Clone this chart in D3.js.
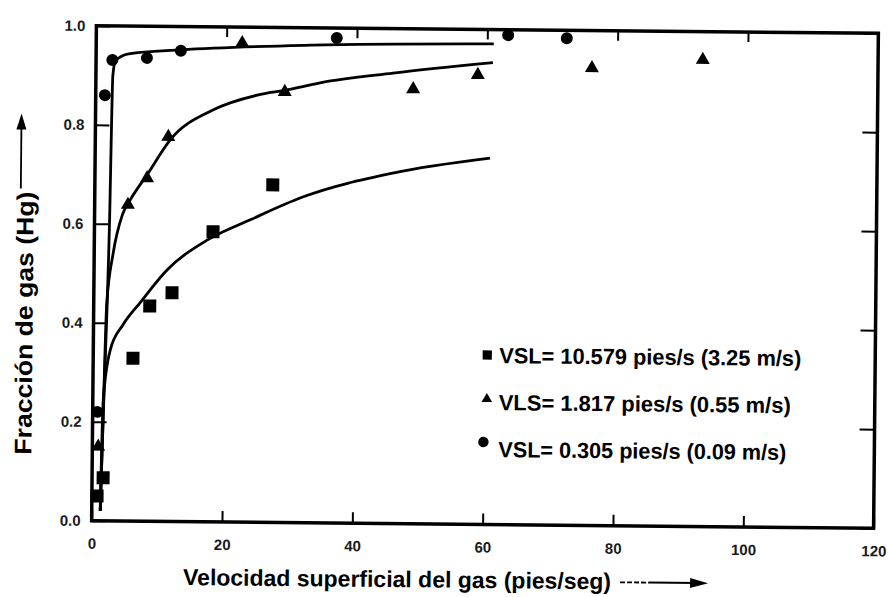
<!DOCTYPE html>
<html lang="es">
<head>
<meta charset="utf-8">
<title>Fracción de gas vs velocidad superficial del gas</title>
<script src="https://cdn.jsdelivr.net/npm/d3@7"></script>
<style>
    body { margin: 0; background: #fff; }
    svg { display: block; }
    text { font-family: "Liberation Sans Narrow", "Liberation Sans", Arial, sans-serif; fill: #000; font-weight: bold; }
    .tick text { font-family: "Liberation Sans", Arial, sans-serif; font-size: 15px; fill: #1a1a1a; }
    .tick line { stroke: #000; stroke-width: 2; }
</style>
</head>
<body>
<svg width="890" height="597"></svg>
<script>
    // ticks
    const xTicks = [0, 20, 40, 60, 80, 100, 120];
    const yTicks = [0, 0.2, 0.4, 0.6, 0.8, 1.0];

    // measured points: VSL = 10.579 pies/s (squares)
    const sqX = [0.8, 1.7, 6.1, 8.6, 12.0, 18.2, 27.3];
    const sqY = [0.05, 0.087, 0.329, 0.435, 0.462, 0.586, 0.682];
    // VLS = 1.817 pies/s (triangles)
    const triX = [0.9, 5.1, 8.0, 11.2, 22.4, 29.0, 48.7, 58.6, 76.1, 93.1];
    const triY = [0.15, 0.639, 0.693, 0.777, 0.968, 0.870, 0.878, 0.908, 0.924, 0.943];
    // VSL = 0.305 pies/s (circles)
    const cirX = [0.7, 1.4, 2.5, 7.8, 13.0, 36.9, 63.2, 72.2];
    const cirY = [0.22, 0.860, 0.931, 0.936, 0.951, 0.980, 0.989, 0.984];

    // fitted curves
    const sqCurveX = [1.3, 1.6, 2.6, 4.5, 7.1, 11.2, 17.3, 23.9, 31.9, 45.7, 60.6];
    const sqCurveY = [0.02, 0.244, 0.345, 0.396, 0.441, 0.508, 0.569, 0.611, 0.658, 0.708, 0.740];
    const triCurveX = [1.3, 1.6, 2.0, 2.9, 4.3, 5.5, 8.0, 11.5, 18.0, 24.8, 29.3, 34.4, 45.6, 60.9];
    const triCurveY = [0.02, 0.2, 0.44, 0.54, 0.62, 0.65, 0.70, 0.771, 0.832, 0.863, 0.874, 0.889, 0.910, 0.933];
    const cirCurveX = [1.3, 1.6, 2.3, 2.6, 3.0, 5.0, 13.0, 33.0, 61.0];
    const cirCurveY = [0.02, 0.2, 0.6, 0.9, 0.93, 0.944, 0.953, 0.965, 0.971];

    const legendLabels = [
        "VSL= 10.579 pies/s (3.25 m/s)",
        "VLS= 1.817 pies/s (0.55 m/s)",
        "VSL= 0.305 pies/s (0.09 m/s)"
    ];

    const svg = d3.select("svg");
    // the scanned figure is slightly tilted
    const g = svg.append("g").attr("transform", "rotate(0.55,486,277)");

    const x = d3.scaleLinear().domain([0, 120]).range([94, 876]);
    const y = d3.scaleLinear().domain([0, 1]).range([524.5, 29.5]);

    // axes with inward ticks
    g.append("g")
        .attr("transform", `translate(0,${y(0)})`)
        .call(d3.axisBottom(x).tickValues(xTicks).tickSizeInner(-11).tickSizeOuter(0)
            .tickPadding(17.5).tickFormat(d3.format("d")))
        .call(a => a.select(".domain").remove());

    g.append("g")
        .attr("transform", `translate(${x(0)},0)`)
        .call(d3.axisLeft(y).tickValues(yTicks).tickSizeInner(-14).tickSizeOuter(0)
            .tickPadding(11).tickFormat(d3.format(".1f")))
        .call(a => a.select(".domain").remove());

    g.append("g")
        .attr("transform", `translate(${x(120)},0)`)
        .call(d3.axisRight(y).tickValues(yTicks).tickSizeInner(-15).tickSizeOuter(0).tickFormat(""))
        .call(a => a.select(".domain").remove());

    g.append("g")
        .attr("transform", `translate(0,${y(1)})`)
        .call(d3.axisTop(x).tickValues(xTicks).tickSizeInner(-10).tickSizeOuter(0).tickFormat(""))
        .call(a => a.select(".domain").remove());

    // frame
    g.append("rect")
        .attr("x", x(0)).attr("y", y(1))
        .attr("width", x(120) - x(0)).attr("height", y(0) - y(1))
        .attr("fill", "none").attr("stroke", "#000").attr("stroke-width", 3.5);

    // curves
    const line = d3.line()
        .x(d => x(d[0]))
        .y(d => y(d[1]))
        .curve(d3.curveMonotoneX);

    const curves = [
        d3.zip(sqCurveX, sqCurveY),
        d3.zip(triCurveX, triCurveY),
        d3.zip(cirCurveX, cirCurveY)
    ];

    g.selectAll("path.curve")
        .data(curves)
        .join("path")
        .attr("class", "curve")
        .attr("d", line)
        .attr("fill", "none")
        .attr("stroke", "#000")
        .attr("stroke-width", 2.8)
        .attr("stroke-linejoin", "round");

    // markers
    const series = [
        {pts: d3.zip(sqX, sqY), type: d3.symbolSquare, size: 169, lsize: 85},
        {pts: d3.zip(triX, triY), type: d3.symbolTriangle, size: 85, lsize: 48},
        {pts: d3.zip(cirX, cirY), type: d3.symbolCircle, size: 113, lsize: 85}
    ];

    series.forEach(s => {
        g.append("g")
            .selectAll("path")
            .data(s.pts)
            .join("path")
            .attr("transform", d => `translate(${x(d[0])},${y(d[1])})`)
            .attr("d", d3.symbol().type(s.type).size(s.size))
            .attr("fill", "#000");
    });

    // legend
    const legend = g.append("g").attr("transform", "translate(500,363)");
    const legendWidths = [302, 292, 288];
    legendLabels.forEach((lab, i) => {
        const row = legend.append("g").attr("transform", `translate(0,${i * 47})`);
        row.append("path")
            .attr("transform", `translate(${i === 2 ? -15 : -12},${i === 0 ? -8 : (i === 1 ? -11 : -15)})`)
            .attr("d", d3.symbol().type(series[i].type).size(series[i].lsize))
            .attr("fill", "#000");
        row.append("text")
            .attr("x", 0).attr("y", 0)
            .attr("font-size", 22)
            .attr("textLength", legendWidths[i])
            .attr("lengthAdjust", "spacingAndGlyphs")
            .text(lab);
    });

    // axis titles
    g.append("text")
        .attr("x", 186).attr("y", 588)
        .attr("font-size", 23)
        .attr("textLength", 428)
        .attr("lengthAdjust", "spacingAndGlyphs")
        .text("Velocidad superficial del gas (pies/seg)");

    g.append("line").attr("x1", 623).attr("x2", 652).attr("y1", 581).attr("y2", 581)
        .attr("stroke", "#000").attr("stroke-width", 1.8).attr("stroke-dasharray", "5,2");
    g.append("line").attr("x1", 652).attr("x2", 700).attr("y1", 581).attr("y2", 581)
        .attr("stroke", "#000").attr("stroke-width", 2);
    g.append("path").attr("d", "M711,581 L693,576 L693,586 Z").attr("fill", "#000");

    g.append("text")
        .attr("transform", "translate(33,459) rotate(-90)")
        .attr("font-size", 24)
        .attr("textLength", 263)
        .attr("lengthAdjust", "spacingAndGlyphs")
        .text("Fracción de gas (Hg)");

    g.append("line").attr("x1", 20).attr("x2", 20).attr("y1", 193).attr("y2", 130)
        .attr("stroke", "#000").attr("stroke-width", 1.8);
    g.append("path").attr("d", "M20,118 L15,134 L25,134 Z").attr("fill", "#000");
</script>
</body>
</html>
